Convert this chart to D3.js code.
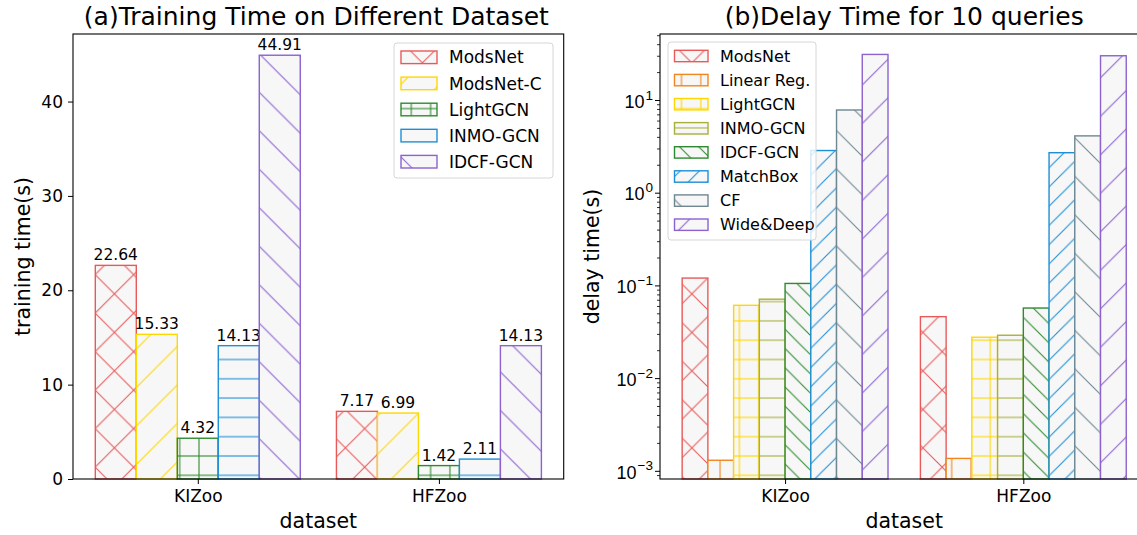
<!DOCTYPE html>
<html>
<head>
<meta charset="utf-8">
<script src="https://cdn.jsdelivr.net/npm/d3@7"></script>
<style>
body { margin: 0; background: #fff; }
svg { font-family: "DejaVu Sans", sans-serif; }
</style>
</head>
<body>
<svg id="chart" width="1137" height="535"></svg>
<script>
// data
const datasets = ["KIZoo", "HFZoo"]

const trainModels = ["ModsNet", "ModsNet-C", "LightGCN", "INMO-GCN", "IDCF-GCN"]
const trainKIZoo = [22.64, 15.33, 4.32, 14.13, 44.91]
const trainHFZoo = [7.17, 6.99, 1.42, 2.11, 14.13]
const trainTicks = [0, 10, 20, 30, 40]
const trainColors = ["#e85a5a", "#ffd700", "#2f8a2f", "#1e8fd6", "#8c62cf"]
const trainHatch = ["x", "/", "+", "-", "\\"]

const delayModels = ["ModsNet", "Linear Reg.", "LightGCN", "INMO-GCN", "IDCF-GCN", "MatchBox", "CF", "Wide&Deep"]
const delayKIZoo = [0.12, 0.0013, 0.061, 0.071, 0.105, 2.85, 7.8, 31]
const delayHFZoo = [0.046, 0.00136, 0.0276, 0.029, 0.057, 2.7, 4.1, 30]
const delayTicks = [1e-3, 1e-2, 1e-1, 1, 10]
const delayTickExp = ["\u22123", "\u22122", "\u22121", "0", "1"]
const delayColors = ["#e85a5a", "#f0861e", "#ffd700", "#a8b03c", "#2f8a2f", "#1e8fd6", "#6f8792", "#8c62cf"]
const delayHatch = ["x", "|", "+", "-", "\\\\", "//", "\\", "/"]

const svg = d3.select("#chart")
const defs = svg.append("defs")
const face = "#f7f7f7"

// hatch tiles, anchored to the svg origin like matplotlib does with the figure
const hatchKinds = {
    ne:  {T: 38.5,  phase: 23.3},
    ne2: {T: 19.25, phase: 4.05},
    nw:  {T: 38.5,  phase: 13},
    nw2: {T: 19.25, phase: 13},
    h:   {T: 19.3,  phase: 12.1},
    v:   {T: 19.3,  phase: 6}
}

function hatch_parts(h) {
    if (h === "x") return ["ne", "nw"]
    if (h === "/") return ["ne"]
    if (h === "//") return ["ne2"]
    if (h === "\\") return ["nw"]
    if (h === "\\\\") return ["nw2"]
    if (h === "+") return ["h", "v"]
    if (h === "-") return ["h"]
    if (h === "|") return ["v"]
    return []
}

function pattern_id(kind, color) {
    const id = `hp-${kind}-${color.slice(1)}`
    if (!defs.select("#" + id).empty()) return id
    const k = hatchKinds[kind]
    const T = k.T
    const p = defs.append("pattern")
        .attr("id", id)
        .attr("patternUnits", "userSpaceOnUse")
    let d
    if (kind === "ne" || kind === "ne2") {
        p.attr("x", k.phase).attr("y", 0).attr("width", T).attr("height", T)
        d = `M0,${T} L${T},0 M-3,3 L3,-3 M${T - 3},${T + 3} L${T + 3},${T - 3}`
    } else if (kind === "nw" || kind === "nw2") {
        p.attr("x", k.phase).attr("y", 0).attr("width", T).attr("height", T)
        d = `M0,0 L${T},${T} M-3,${T - 3} L3,${T + 3} M${T - 3},-3 L${T + 3},3`
    } else if (kind === "h") {
        p.attr("x", 0).attr("y", k.phase - T / 2).attr("width", 10).attr("height", T)
        d = `M-1,${T / 2} L11,${T / 2}`
    } else {
        p.attr("x", k.phase - T / 2).attr("y", 0).attr("width", T).attr("height", 10)
        d = `M${T / 2},-1 L${T / 2},11`
    }
    p.append("path")
        .attr("d", d)
        .attr("stroke", color)
        .attr("stroke-width", 1.1)
        .attr("fill", "none")
    return id
}

function hatched_rect(g, x, y, w, h, color, hatch, edge) {
    g.append("rect").attr("x", x).attr("y", y).attr("width", w).attr("height", h)
        .attr("fill", face)
    hatch_parts(hatch).forEach(kind => {
        g.append("rect").attr("x", x).attr("y", y).attr("width", w).attr("height", h)
            .attr("fill", `url(#${pattern_id(kind, color)})`)
    })
    g.append("rect").attr("x", x).attr("y", y).attr("width", w).attr("height", h)
        .attr("fill", "none")
        .attr("stroke", color)
        .attr("stroke-width", edge)
}

function style_axis(g, size) {
    g.select(".domain").remove()
    g.selectAll(".tick line").attr("stroke", "#000").attr("stroke-width", 1)
    g.selectAll(".tick text")
        .attr("fill", "#000")
        .style("font-size", size + "px")
        .style("font-family", "DejaVu Sans")
}

// ---------- (a) training time ----------
const L = {left: 73, right: 563.7, top: 34, bottom: 479}
const xL = d3.scaleLinear().domain([-0.5175, 1.5175]).range([L.left, L.right])
const yL = d3.scaleLinear().domain([0, 47.16]).range([L.bottom, L.top])
const bwL = 0.17

const barsL = svg.append("g")
const trainSeries = [trainKIZoo, trainHFZoo]
trainModels.forEach((m, i) => {
    datasets.forEach((ds, j) => {
        const v = trainSeries[j][i]
        const x0 = xL(j + (i - 2.5) * bwL)
        const x1 = xL(j + (i - 1.5) * bwL)
        hatched_rect(barsL, x0, yL(v), x1 - x0, yL(0) - yL(v), trainColors[i], trainHatch[i], 1.4)
        barsL.append("text")
            .attr("x", (x0 + x1) / 2)
            .attr("y", yL(v) - 5)
            .attr("text-anchor", "middle")
            .style("font-size", "15.5px")
            .text(v.toFixed(2))
    })
})

svg.append("g")
    .attr("transform", `translate(${L.left},0)`)
    .call(d3.axisLeft(yL).tickValues(trainTicks).tickSize(5).tickPadding(5))
    .call(g => style_axis(g, 17))

svg.append("g")
    .attr("transform", `translate(0,${L.bottom})`)
    .call(d3.axisBottom(xL).tickValues([0, 1]).tickFormat(i => datasets[i]).tickSize(5).tickPadding(6))
    .call(g => style_axis(g, 17))

svg.append("rect")
    .attr("x", L.left).attr("y", L.top)
    .attr("width", L.right - L.left).attr("height", L.bottom - L.top)
    .attr("fill", "none").attr("stroke", "#000").attr("stroke-width", 1.1)

svg.append("text")
    .attr("x", (L.left + L.right) / 2 - 2).attr("y", 25)
    .attr("text-anchor", "middle")
    .style("font-size", "25px")
    .text("(a)Training Time on Different Dataset")

svg.append("text")
    .attr("x", (L.left + L.right) / 2).attr("y", 528)
    .attr("text-anchor", "middle")
    .style("font-size", "20.5px")
    .text("dataset")

svg.append("text")
    .attr("transform", `translate(30,${(L.top + L.bottom) / 2}) rotate(-90)`)
    .attr("text-anchor", "middle")
    .style("font-size", "20.5px")
    .text("training time(s)")

// legend (a)
const legL = svg.append("g")
legL.append("rect")
    .attr("x", 394).attr("y", 43).attr("width", 159).attr("height", 135)
    .attr("rx", 3).attr("fill", "#fff").attr("fill-opacity", 0.8)
    .attr("stroke", "#d6d6d6")
trainModels.forEach((m, i) => {
    const cy = 57.3 + i * 26.1
    hatched_rect(legL, 401, cy - 6.3, 36, 12.6, trainColors[i], trainHatch[i], 1.4)
    legL.append("text")
        .attr("x", 449).attr("y", cy).attr("dy", "0.36em")
        .style("font-size", "17px")
        .text(m)
})

// ---------- (b) delay time ----------
const R = {left: 660, right: 1148.4, top: 34, bottom: 479}
const xR = d3.scaleLinear().domain([-0.525, 1.525]).range([R.left, R.right])
const yR = d3.scaleLog().domain([0.000816, 51.5]).range([R.bottom, R.top])
const bwR = 0.108

const barsR = svg.append("g")
const delaySeries = [delayKIZoo, delayHFZoo]
delayModels.forEach((m, i) => {
    datasets.forEach((ds, j) => {
        const v = delaySeries[j][i]
        const x0 = xR(j + (i - 4) * bwR)
        const x1 = xR(j + (i - 3) * bwR)
        hatched_rect(barsR, x0, yR(v), x1 - x0, R.bottom - yR(v), delayColors[i], delayHatch[i], 1.4)
    })
})

// minor log ticks
const minorTicks = []
for (let e = -4; e <= 1; e++) {
    for (let k = 2; k <= 9; k++) {
        const v = k * Math.pow(10, e)
        if (v > yR.domain()[0] && v < yR.domain()[1]) minorTicks.push(v)
    }
}
svg.append("g")
    .attr("transform", `translate(${R.left},0)`)
    .call(d3.axisLeft(yR).tickValues(minorTicks).tickSize(3).tickFormat(() => ""))
    .call(g => style_axis(g, 17))
    .call(g => g.selectAll(".tick line").attr("stroke-width", 0.8))

const majorR = svg.append("g")
    .attr("transform", `translate(${R.left},0)`)
    .call(d3.axisLeft(yR).tickValues(delayTicks).tickSize(5).tickFormat(() => ""))
    .call(g => style_axis(g, 17))

majorR.selectAll(".tick").each(function (d, i) {
    const t = d3.select(this).append("text")
        .attr("x", -7).attr("y", 0).attr("dy", "0.4em")
        .attr("text-anchor", "end")
        .attr("fill", "#000")
        .style("font-size", "18px")
    t.append("tspan").text("10")
    t.append("tspan")
        .attr("dx", "1")
        .attr("dy", "-0.6em")
        .style("font-size", "13.5px")
        .text(delayTickExp[i])
})

svg.append("g")
    .attr("transform", `translate(0,${R.bottom})`)
    .call(d3.axisBottom(xR).tickValues([0, 1]).tickFormat(i => datasets[i]).tickSize(5).tickPadding(6))
    .call(g => style_axis(g, 17))

svg.append("rect")
    .attr("x", R.left).attr("y", R.top)
    .attr("width", R.right - R.left).attr("height", R.bottom - R.top)
    .attr("fill", "none").attr("stroke", "#000").attr("stroke-width", 1.1)

svg.append("text")
    .attr("x", (R.left + R.right) / 2).attr("y", 25)
    .attr("text-anchor", "middle")
    .style("font-size", "25px")
    .text("(b)Delay Time for 10 queries")

svg.append("text")
    .attr("x", (R.left + R.right) / 2).attr("y", 528)
    .attr("text-anchor", "middle")
    .style("font-size", "20.5px")
    .text("dataset")

svg.append("text")
    .attr("transform", `translate(599,${(R.top + R.bottom) / 2}) rotate(-90)`)
    .attr("text-anchor", "middle")
    .style("font-size", "20.5px")
    .text("delay time(s)")

// legend (b)
const legR = svg.append("g")
legR.append("rect")
    .attr("x", 668).attr("y", 42).attr("width", 148).attr("height", 198)
    .attr("rx", 3).attr("fill", "#fff").attr("fill-opacity", 0.8)
    .attr("stroke", "#d6d6d6")
delayModels.forEach((m, i) => {
    const cy = 56 + i * 24.1
    hatched_rect(legR, 674.5, cy - 5.7, 33.5, 11.4, delayColors[i], delayHatch[i], 1.4)
    legR.append("text")
        .attr("x", 720).attr("y", cy).attr("dy", "0.36em")
        .style("font-size", "16px")
        .text(m)
})
</script>
</body>
</html>
